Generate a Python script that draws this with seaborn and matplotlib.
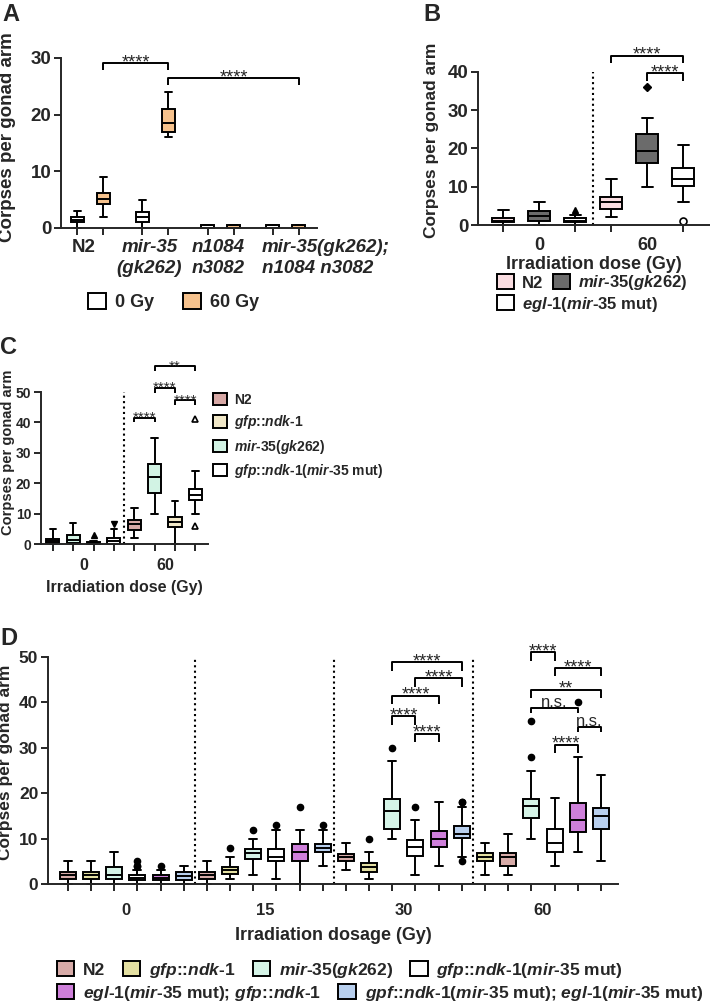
import re
import numpy as np
import pandas as pd
import matplotlib
matplotlib.use('Agg')
import matplotlib.pyplot as plt
from matplotlib.patches import Patch
from matplotlib.transforms import ScaledTranslation
import seaborn as sns

sns.set_style('ticks')
plt.rcParams['font.family'] = ['Liberation Sans', 'DejaVu Sans']
plt.rcParams['font.weight'] = 'bold'
plt.rcParams['axes.labelweight'] = 'bold'
plt.rcParams['axes.linewidth'] = 1.4
plt.rcParams['mathtext.fontset'] = 'custom'
plt.rcParams['mathtext.rm'] = 'Liberation Sans:bold'
plt.rcParams['mathtext.it'] = 'Liberation Sans:italic:bold'
plt.rcParams['mathtext.bf'] = 'Liberation Sans:bold'

# strains
N2, GFP, MIR, GFPMIR = 'N2', 'gfp::ndk-1', 'mir-35(gk262)', 'gfp::ndk-1(mir-35 mut)'
EGL = 'egl-1(mir-35 mut)'
EGLGFP = 'egl-1(mir-35 mut); gfp::ndk-1'
GPFEGL = 'gpf::ndk-1(mir-35 mut); egl-1(mir-35 mut)'

# legend text, italic runs between |
legend_text = {
    N2: 'N2', GFP: '|gfp::ndk-1|', MIR: '|mir-35(gk262)|',
    GFPMIR: '|gfp::ndk-1|(|mir-35| mut)', EGL: '|egl-1|(|mir-35| mut)',
    EGLGFP: '|egl-1|(|mir-35| mut); |gfp::ndk-1|',
    GPFEGL: '|gpf::ndk-1|(|mir-35| mut); |egl-1|(|mir-35| mut)',
}

# ---- panel A: box summaries (lo, q1, median, q3, hi)
a_genotype = ['N2', 'mir-35', 'n1084', 'double']
a_ticklabels = ['N2', 'mir-35\n(gk262)', 'n1084\nn3082', 'mir-35(gk262);\nn1084 n3082']
a_dose = ['0 Gy', '60 Gy']
a_box_genotype = ['N2', 'N2', 'mir-35', 'mir-35', 'n1084', 'n1084', 'double', 'double']
a_box_dose = ['0 Gy', '60 Gy'] * 4
a_lo = [0, 2, 0, 16, 0, 0, 0, 0]
a_q1 = [1, 4.2, 1.1, 17, 0, 0, 0, 0]
a_med = [1.4, 5.2, 1.9, 18.6, 0, 0, 0, 0]
a_q3 = [2, 6.2, 2.8, 21, 0.5, 0.5, 0.5, 0.5]
a_hi = [3, 9, 5, 24, 0.5, 0.5, 0.5, 0.5]
a_palette = {'0 Gy': 'white', '60 Gy': '#F6C28D'}
a_brackets = [('N2', '60 Gy', 'mir-35', '60 Gy', 29.1, '****'),
              ('mir-35', '60 Gy', 'double', '60 Gy', 26.5, '****')]

# ---- panel B
b_dose = ['0', '60']
b_strains = [N2, MIR, EGL]
b_box_dose = ['0', '0', '0', '60', '60', '60']
b_box_strain = [N2, MIR, EGL] * 2
b_lo = [0, 0, 0, 2, 10, 6]
b_q1 = [0.7, 1.1, 0.7, 4.3, 16.1, 10.3]
b_med = [1.1, 2.3, 1.1, 6.1, 19.3, 12]
b_q3 = [1.7, 3.7, 1.7, 7.4, 23.7, 14.8]
b_hi = [4, 6, 2.5, 12, 28, 21]
b_flier_dose = ['0', '60', '60']
b_flier_strain = [EGL, MIR, EGL]
b_flier_value = [3.8, 36, 1]
b_palette = {N2: '#FADDE1', MIR: '#6B6B6B', EGL: 'white'}
b_brackets = [('60', N2, '60', EGL, 44.3, '****'),
              ('60', MIR, '60', EGL, 39.7, '****')]

# ---- panel C (drawing order differs from legend order)
c_dose = ['0', '60']
c_strains = [N2, MIR, GFP, GFPMIR]
c_legend_order = [N2, GFP, MIR, GFPMIR]
c_box_dose = ['0'] * 4 + ['60'] * 4
c_box_strain = [N2, MIR, GFP, GFPMIR] * 2
c_lo = [0, 0, 0, 0, 2, 10, 0, 10]
c_q1 = [0.4, 0.3, 0, 0, 4.5, 16.7, 5.5, 14.5]
c_med = [1, 1.4, 0.2, 0.9, 6.5, 22, 7.4, 16.2]
c_q3 = [1.5, 2.8, 0.6, 2, 8, 26.2, 9, 18]
c_hi = [5, 7, 1, 5, 12, 35, 14, 24]
c_flier_dose = ['0', '0', '60', '60']
c_flier_strain = [GFP, GFPMIR, GFPMIR, GFPMIR]
c_flier_value = [3, 6.5, 41, 6]
c_palette = {N2: '#D8A9A6', GFP: '#F1E8C8', MIR: '#D2F3E4', GFPMIR: 'white'}
c_brackets = [('60', N2, '60', MIR, 41.6, '****'),
              ('60', MIR, '60', GFP, 51.4, '****'),
              ('60', GFP, '60', GFPMIR, 47.3, '****'),
              ('60', MIR, '60', GFPMIR, 58.5, '**')]

# ---- panel D (at 60 Gy the first two boxes are swapped)
d_dose = ['0', '15', '30', '60']
d_strains = [N2, GFP, MIR, GFPMIR, EGLGFP, GPFEGL]
d_strains_60 = [GFP, N2, MIR, GFPMIR, EGLGFP, GPFEGL]
d_box_dose = ['0'] * 6 + ['15'] * 6 + ['30'] * 6 + ['60'] * 6
d_box_strain = d_strains * 3 + d_strains_60
d_lo = [0, 0, 0, 0, 0, 0, 0, 1, 2, 1, 0, 4, 3, 1, 10, 2, 4, 6, 2, 2, 10, 4, 7, 5]
d_q1 = [1.1, 1.1, 1.1, 0.8, 0.8, 0.8, 1.1, 2.2, 5.5, 5.1, 5.1, 7,
        5, 2.6, 12.1, 6.1, 8.1, 10.1, 5.1, 4.0, 14.5, 7, 11.5, 12.1]
d_med = [2, 2, 2, 1.3, 1.3, 1.7, 2, 3, 6.8, 6.0, 7, 7.9,
         6, 3.7, 16, 8.1, 10, 11, 5.9, 5.9, 17.1, 9, 14, 15]
d_q3 = [2.7, 2.7, 3.7, 1.9, 1.9, 2.6, 2.7, 3.8, 7.8, 7.8, 8.8, 8.8,
        6.7, 4.6, 18.7, 9.8, 11.7, 12.7, 6.8, 6.8, 18.7, 12.2, 17.8, 16.7]
d_hi = [5, 5, 7, 3, 3, 4, 5, 6, 10, 12, 12, 12,
        9, 7, 27, 14, 18, 17, 9, 11, 25, 19, 28, 24]
d_flier_dose = ['0', '0', '0', '0', '15', '15', '15', '15', '15',
                '30', '30', '30', '30', '30', '30', '60', '60', '60']
d_flier_strain = [GFPMIR, GFPMIR, GFPMIR, EGLGFP, GFP, MIR, GFPMIR, EGLGFP, GPFEGL,
                  GFP, MIR, GFPMIR, GPFEGL, GPFEGL, GPFEGL, MIR, MIR, EGLGFP]
d_flier_value = [4, 4, 5, 4, 8, 12, 13, 17, 13, 10, 30, 17, 18, 18, 5, 28, 36, 40]
d_palette = {N2: '#D7ABA8', GFP: '#E4E0A2', MIR: '#D5F4E7', GFPMIR: 'white',
             EGLGFP: '#CE7FDA', GPFEGL: '#B8CFEE'}
d_brackets = [('30', MIR, '30', GPFEGL, 48.8, '****'),
              ('30', GFPMIR, '30', GPFEGL, 45.3, '****'),
              ('30', MIR, '30', EGLGFP, 41.5, '****'),
              ('30', MIR, '30', GFPMIR, 36.9, '****'),
              ('30', GFPMIR, '30', EGLGFP, 33.1, '****'),
              ('60', MIR, '60', GFPMIR, 51.0, '****'),
              ('60', GFPMIR, '60', GPFEGL, 47.6, '****'),
              ('60', MIR, '60', GPFEGL, 42.8, '**'),
              ('60', MIR, '60', EGLGFP, 38.8, 'n.s.'),
              ('60', EGLGFP, '60', GPFEGL, 34.6, 'n.s.'),
              ('60', GFPMIR, '60', EGLGFP, 30.7, '****')]


def box_frame(cats, hues, lo, q1, med, q3, hi, f_cat=(), f_hue=(), f_val=()):
    # seaborn wants samples: every read summary value is repeated so that
    # quartiles / 2-98 percentile whiskers come out as read, fliers added once
    rows = []
    for c, h, *stats in zip(cats, hues, lo, q1, med, q3, hi):
        for v in stats:
            rows += [(c, h, v)] * 20
    rows += list(zip(f_cat, f_hue, f_val))
    return pd.DataFrame(rows, columns=['cat', 'hue', 'value'])


def rich(label):
    out = []
    for k, part in enumerate(label.split('|')):
        if k % 2:
            part = re.sub(r'([^\-:]+)', r'$\\mathit{\1}$', part)
        out.append(part)
    return ''.join(out)


def draw_boxes(ax, df, order, hue_order, palette, width, gap, flier):
    sns.boxplot(data=df, x='cat', y='value', hue='hue', order=order, hue_order=hue_order,
                palette=palette, saturation=1, width=width, gap=gap, whis=(2, 98),
                linecolor='black', linewidth=1.4, dodge=True, legend=False, ax=ax,
                flierprops=flier)


def box_x(order, hue_orders, width, cat, hue):
    ho = hue_orders[cat]
    return order.index(cat) - width / 2 + width / len(ho) * (ho.index(hue) + 0.5)


def style_axes(ax, order, hue_orders, width, xlim, ymax, ystep, labels, xsize, ysize, xpad):
    sns.despine(ax=ax)
    ax.set_ylim(0, ymax)
    ax.set_yticks(np.arange(0, ymax + 1, ystep))
    ax.set_xticks(range(len(order)))
    ax.set_xticklabels(labels)
    ax.set_xticks([box_x(order, hue_orders, width, c, h) for c in order for h in hue_orders[c]],
                  minor=True)
    ax.set_xlim(*xlim)
    ax.tick_params(axis='x', which='major', length=0, pad=xpad, labelsize=xsize)
    ax.tick_params(axis='x', which='minor', length=5, width=1.4)
    ax.tick_params(axis='y', length=5, width=1.4, labelsize=ysize, pad=2)
    ax.set_xlabel('')
    for art in ax.patches + ax.lines:
        art.set_clip_on(False)


def brackets(ax, order, hue_orders, width, specs, drop, size):
    for c1, h1, c2, h2, y, lab in specs:
        x1 = box_x(order, hue_orders, width, c1, h1)
        x2 = box_x(order, hue_orders, width, c2, h2)
        ns = lab == 'n.s.'
        d = drop * (0.6 if ns else 1)
        ax.plot([x1, x1, x2, x2], [y - d, y, y, y - d], color='black', lw=1.4,
                clip_on=False, solid_capstyle='butt')
        ax.annotate(lab, xy=((x1 + x2) / 2, y), xytext=(0, 0.5 if ns else -3),
                    textcoords='offset points', ha='center', va='baseline',
                    fontsize=size - (1 if ns else 0), fontweight='normal',
                    annotation_clip=False)


def px_axes(fig, l, t, r, b):
    return fig.add_axes([l / 710, 1 - b / 1005, (r - l) / 710, (b - t) / 1005])


def add_legend(fig, keys, palette, x, y, size, ncol, loc='center left', spacing=0.3, colsp=1.0):
    handles = [Patch(facecolor=palette[k], edgecolor='black', linewidth=1.4) for k in keys]
    labels = [rich(legend_text.get(k, k)) for k in keys]
    fig.legend(handles, labels, loc=loc, bbox_to_anchor=(x / 710, 1 - y / 1005), ncol=ncol,
               frameon=False, fontsize=size, handlelength=1.0, handleheight=1.0,
               handletextpad=0.5, columnspacing=colsp, borderpad=0, borderaxespad=0,
               labelspacing=spacing)


fig = plt.figure(figsize=(7.1, 10.05), dpi=100)
filled = lambda m, s=4.5: dict(marker=m, markerfacecolor='black', markeredgecolor='black', markersize=s)
hollow = lambda m, s=5: dict(marker=m, markerfacecolor='white', markeredgecolor='black',
                             markersize=s, markeredgewidth=1.2)

# ---------------- A
ax = px_axes(fig, 61, 58, 317, 228)
a_df = box_frame(a_box_genotype, a_box_dose, a_lo, a_q1, a_med, a_q3, a_hi)
draw_boxes(ax, a_df, a_genotype, a_dose, a_palette, 0.8, 0.5, filled('o'))
a_ho = {g: a_dose for g in a_genotype}
style_axes(ax, a_genotype, a_ho, 0.8, (-0.45, 3.48), 30, 10, a_ticklabels, 13.5, 13.5, 8)
# GraphPad places these labels a little off the group centres
for t, dx, ha in zip(ax.get_xticklabels(), [-7, -6, -2, -24], ['center'] * 3 + ['left']):
    t.set_transform(t.get_transform() + ScaledTranslation(dx / 100, 0, fig.dpi_scale_trans))
    t.set_ha(ha)
    t.set_linespacing(1.3)
    if t.get_text() != 'N2':
        t.set_fontstyle('italic')
ax.set_ylabel('Corpses per gonad arm', fontsize=13.5)
ax.yaxis.set_label_coords(-0.176, 0.535)
brackets(ax, a_genotype, a_ho, 0.8, a_brackets, 1.3, 13)
add_legend(fig, a_dose, a_palette, 88, 302, 13, 2, colsp=1.6)

# ---------------- B
ax = px_axes(fig, 478, 72, 710, 225)
b_df = box_frame(b_box_dose, b_box_strain, b_lo, b_q1, b_med, b_q3, b_hi,
                 b_flier_dose, b_flier_strain, b_flier_value)
draw_boxes(ax, b_df[b_df.cat == '0'], b_dose, b_strains, b_palette, 1.0, 0.39, filled('^', 5))
draw_boxes(ax, b_df[(b_df.cat == '60') & (b_df.hue != EGL)], b_dose, b_strains, b_palette,
           1.0, 0.39, filled('D', 4))
draw_boxes(ax, b_df[(b_df.cat == '60') & (b_df.hue == EGL)], b_dose, b_strains, b_palette,
           1.0, 0.39, hollow('o', 5))
b_ho = {d: b_strains for d in b_dose}
style_axes(ax, b_dose, b_ho, 1.0, (-0.565, 1.58), 40, 10, b_dose, 13, 13.5, 9)
ax.axvline(0.5, ymin=0, ymax=1, color='black', lw=1.5, ls=(0, (1, 1.6)))
ax.set_ylabel('Corpses per gonad arm', fontsize=12.5)
ax.yaxis.set_label_coords(-0.17, 0.555)
ax.set_xlabel('Irradiation dose (Gy)', fontsize=13)
ax.xaxis.set_label_coords(0.5, -0.2)
brackets(ax, b_dose, b_ho, 1.0, b_brackets, 2.0, 13)
add_legend(fig, [N2, MIR], b_palette, 497, 283, 12, 2, colsp=0.6)
add_legend(fig, [EGL], b_palette, 497, 304, 12, 1)

# ---------------- C
ax = px_axes(fig, 41, 392, 208, 544)
c_df = box_frame(c_box_dose, c_box_strain, c_lo, c_q1, c_med, c_q3, c_hi,
                 c_flier_dose, c_flier_strain, c_flier_value)
draw_boxes(ax, c_df[(c_df.cat == '0') & (c_df.hue != GFPMIR)], c_dose, c_strains, c_palette,
           1.0, 0.36, filled('^', 5))
draw_boxes(ax, c_df[(c_df.cat == '0') & (c_df.hue == GFPMIR)], c_dose, c_strains, c_palette,
           1.0, 0.36, filled('v', 5))
draw_boxes(ax, c_df[c_df.cat == '60'], c_dose, c_strains, c_palette, 1.0, 0.36, hollow('^', 4.5))
c_ho = {d: c_strains for d in c_dose}
style_axes(ax, c_dose, c_ho, 1.0, (-0.52, 1.53), 50, 10, c_dose, 11.5, 10, 10)
ax.axvline(0.5, ymin=0, ymax=1, color='black', lw=1.5, ls=(0, (1, 1.6)))
ax.set_ylabel('Corpses per gonad arm', fontsize=10.5)
ax.yaxis.set_label_coords(-0.155, 0.6)
ax.set_xlabel('Irradiation dose (Gy)', fontsize=11.5)
ax.xaxis.set_label_coords(0.5, -0.235)
brackets(ax, c_dose, c_ho, 1.0, c_brackets, 1.6, 11)
add_legend(fig, c_legend_order, c_palette, 213, 393, 10, 1, loc='upper left', spacing=0.45)

# ---------------- D
ax = px_axes(fig, 48, 657, 618, 884)
d_df = box_frame(d_box_dose, d_box_strain, d_lo, d_q1, d_med, d_q3, d_hi,
                 d_flier_dose, d_flier_strain, d_flier_value)
draw_boxes(ax, d_df[d_df.cat != '60'], d_dose, d_strains, d_palette, 1.0, 0.31, filled('o', 4.5))
draw_boxes(ax, d_df[d_df.cat == '60'], d_dose, d_strains_60, d_palette, 1.0, 0.31, filled('o', 4.5))
d_ho = {'0': d_strains, '15': d_strains, '30': d_strains, '60': d_strains_60}
style_axes(ax, d_dose, d_ho, 1.0, (-0.56, 3.54), 50, 10, d_dose, 12, 12.5, 14)
for xv in (0.5, 1.5, 2.5):
    ax.axvline(xv, ymin=0, ymax=1, color='black', lw=1.5, ls=(0, (1, 1.6)))
ax.set_ylabel('Corpses per gonad arm', fontsize=12.5)
ax.yaxis.set_label_coords(-0.061, 0.537)
ax.set_xlabel('Irradiation dosage (Gy)', fontsize=13)
ax.xaxis.set_label_coords(0.5, -0.19)
brackets(ax, d_dose, d_ho, 1.0, d_brackets, 1.8, 13)
add_legend(fig, [N2, GFP, MIR, GFPMIR], d_palette, 57, 970, 12.5, 4)
add_legend(fig, [EGLGFP, GPFEGL], d_palette, 57, 993, 12.5, 2)

# panel letters
for letter, x, y in [('A', 2, 3), ('B', 423, 3), ('C', 0, 336), ('D', 0, 627)]:
    fig.text(x / 710, 1 - y / 1005, letter, fontsize=17, fontweight='bold', va='top')

fig.savefig('out.png', dpi=100)
